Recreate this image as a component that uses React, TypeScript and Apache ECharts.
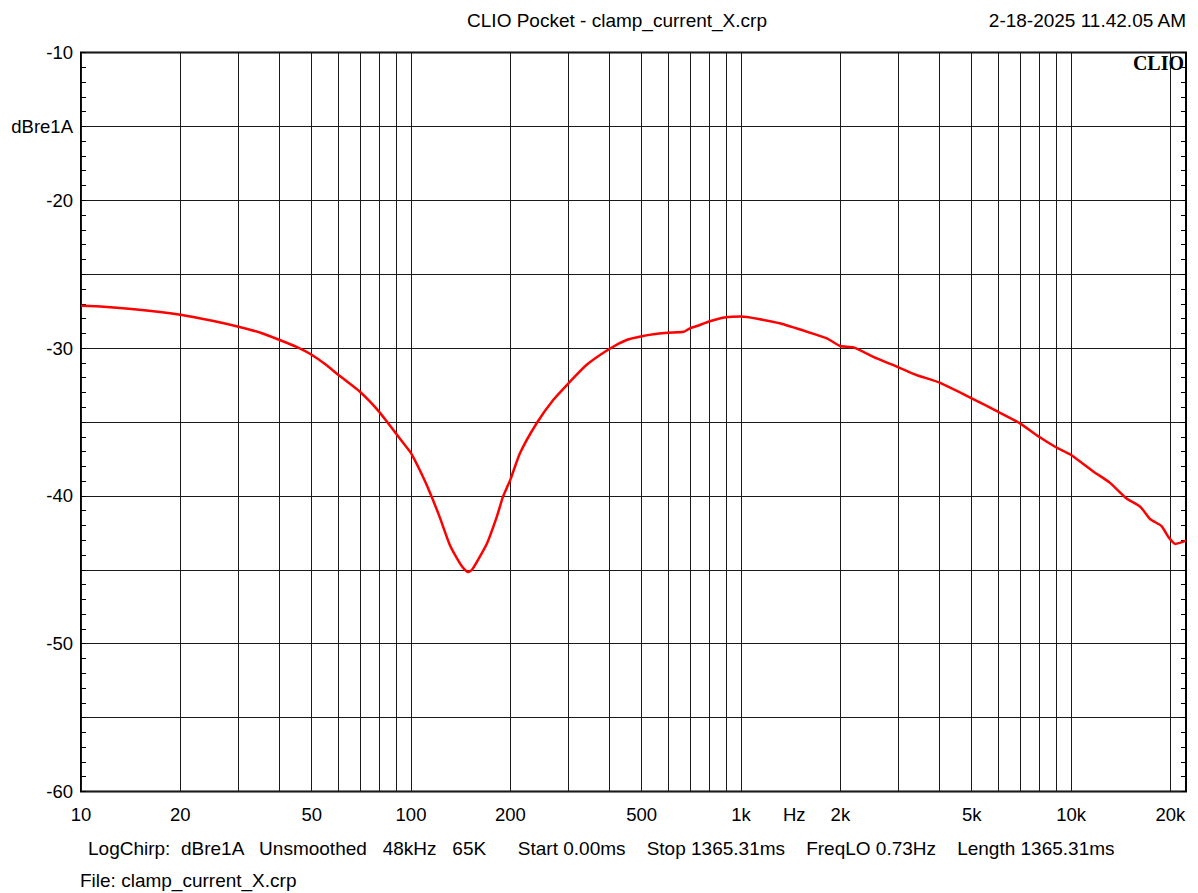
import React, { useEffect, useRef } from "react";
import * as echarts from "echarts";

const freqs = [10, 11.7, 15, 20, 25, 30, 35, 40, 45, 50, 55, 60, 65, 70, 75, 80, 85, 90, 95, 100, 106, 113, 122, 131, 141, 145, 149, 153, 158, 170, 182, 190, 200, 214, 240, 270, 300, 340, 400, 450, 500, 550, 600, 670, 700, 750, 800, 900, 1000, 1140, 1310, 1620, 1820, 2000, 2190, 2580, 3000, 3400, 4000, 5000, 6000, 7000, 8000, 9000, 10000, 11700, 13100, 14700, 16200, 17400, 18800, 19700, 20700, 22300];
const levels = [-27.13, -27.2, -27.4, -27.74, -28.15, -28.55, -28.96, -29.45, -29.92, -30.45, -31.1, -31.78, -32.38, -32.95, -33.6, -34.3, -35.05, -35.77, -36.45, -37.1, -38.2, -39.55, -41.4, -43.3, -44.6, -44.95, -45.15, -45.0, -44.5, -43.2, -41.4, -40.05, -38.9, -37.1, -35.1, -33.5, -32.38, -31.14, -30.04, -29.45, -29.2, -29.05, -28.96, -28.9, -28.66, -28.44, -28.2, -27.92, -27.87, -28.05, -28.32, -28.96, -29.34, -29.86, -29.95, -30.7, -31.3, -31.82, -32.34, -33.4, -34.3, -35.09, -36.0, -36.71, -37.23, -38.36, -39.1, -40.16, -40.73, -41.58, -42.04, -42.76, -43.25, -43.03];

const gridFreqs = [10, 20, 30, 40, 50, 60, 70, 80, 90, 100, 200, 300, 400, 500, 600, 700, 800, 900, 1000, 2000, 3000, 4000, 5000, 6000, 7000, 8000, 9000, 10000, 20000];
const labelFreqs = [10, 20, 50, 100, 200, 500, 1000, 1450, 2000, 5000, 10000, 20000];
const labelTexts = ["10", "20", "50", "100", "200", "500", "1k", "Hz", "2k", "5k", "10k", "20k"];

const fMin = 10;
const fMax = 22300;
const yMin = -60;
const yMax = -10;
const yStep = 5;

const title = "CLIO Pocket - clamp_current_X.crp";
const dateText = "2-18-2025 11.42.05 AM";
const infoText = "LogChirp:  dBre1A   Unsmoothed   48kHz   65K      Start 0.00ms    Stop 1365.31ms    FreqLO 0.73Hz    Length 1365.31ms";
const fileText = "File: clamp_current_X.crp";
const unitText = "dBre1A";

const FONT = "'Liberation Sans', Arial, sans-serif";

export default function App() {
  const ref = useRef<HTMLDivElement>(null);
  useEffect(() => {
    document.body.style.margin = "0";
    const chart = echarts.init(ref.current!, null, { renderer: "svg" });
    const lg = (f: number) => Math.log10(f);
    const labelFormatter = (v: number) => {
      for (let i = 0; i < labelFreqs.length; i++) {
        if (Math.abs(lg(labelFreqs[i]) - v) < 1e-6) return labelTexts[i];
      }
      return "";
    };
    const yAxisCommon = {
      type: "value",
      min: yMin,
      max: yMax,
      interval: yStep,
      axisLine: { show: false },
      axisTick: { show: true, inside: true, length: 5, lineStyle: { color: "#000", width: 1 } },
      minorTick: { show: true, splitNumber: 5, length: 5, lineStyle: { color: "#000", width: 1 } },
    };
    chart.setOption({
      animation: false,
      backgroundColor: "#fff",
      textStyle: { fontFamily: FONT },
      grid: {
        left: 81,
        top: 52.5,
        width: 1105,
        height: 739,
        show: true,
        borderColor: "#000",
        borderWidth: 2,
        backgroundColor: "transparent",
      },
      xAxis: {
        type: "value",
        min: lg(fMin),
        max: lg(fMax),
        axisLine: { show: false },
        axisTick: { show: false, customValues: gridFreqs.map(lg) },
        axisLabel: {
          customValues: labelFreqs.map(lg),
          formatter: labelFormatter,
          color: "#000",
          fontSize: 18.5,
          fontFamily: FONT,
          margin: 13,
        },
        splitLine: { show: true, lineStyle: { color: "#1a1a1a", width: 1 } },
      },
      yAxis: [
        {
          ...yAxisCommon,
          position: "left",
          axisLabel: {
            color: "#000",
            fontSize: 18.5,
            fontFamily: FONT,
            margin: 8,
            formatter: (v: number) => (v === -15 ? unitText : v % 10 === 0 ? String(v) : ""),
          },
          splitLine: { show: true, lineStyle: { color: "#1a1a1a", width: 1 } },
        },
        {
          ...yAxisCommon,
          position: "right",
          axisLabel: { show: false },
          splitLine: { show: false },
        },
      ],
      series: [
        {
          type: "line",
          yAxisIndex: 0,
          data: freqs.map((f, i) => [lg(f), levels[i]]),
          showSymbol: false,
          smooth: 0.2,
          lineStyle: { color: "#ff0000", width: 2.5 },
          clip: true,
        },
      ],
      graphic: [
        { type: "text", x: 617, y: 20, style: { text: title, fontSize: 19, fontFamily: FONT, fill: "#000", align: "center", verticalAlign: "middle" } },
        { type: "text", x: 1186, y: 20, style: { text: dateText, fontSize: 19, fontFamily: FONT, fill: "#000", align: "right", verticalAlign: "middle" } },
        { type: "text", x: 1184, y: 63, style: { text: "CLIO", fontSize: 20, fontWeight: "bold", fontFamily: "'Liberation Serif', 'DejaVu Serif', serif", fill: "#000", align: "right", verticalAlign: "middle" } },
        { type: "text", x: 88, y: 848, style: { text: infoText, fontSize: 19, fontFamily: FONT, fill: "#000", align: "left", verticalAlign: "middle" } },
        { type: "text", x: 80, y: 880, style: { text: fileText, fontSize: 19, fontFamily: FONT, fill: "#000", align: "left", verticalAlign: "middle" } },
      ],
    });
    return () => chart.dispose();
  }, []);
  return <div ref={ref} style={{ position: "absolute", left: 0, top: 0, width: 1198, height: 893, background: "#fff" }} />;
}
